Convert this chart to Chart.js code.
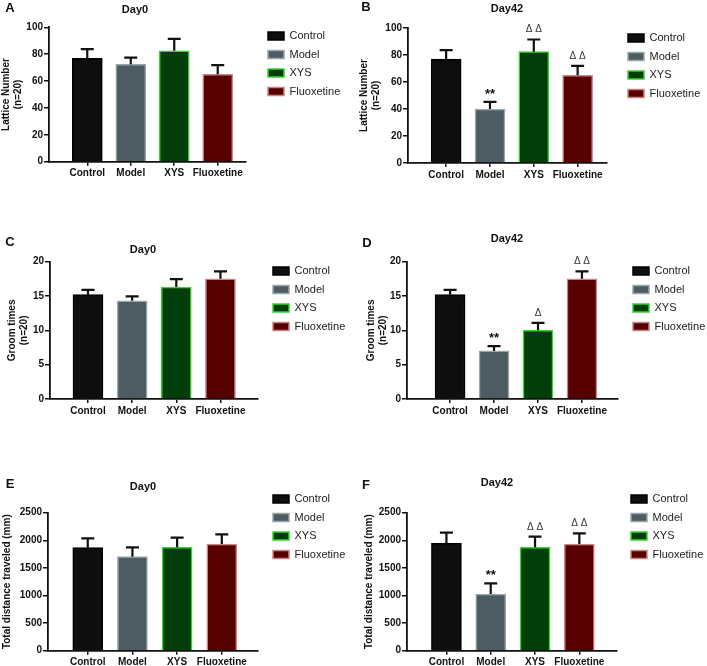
<!DOCTYPE html>
<html>
<head>
<meta charset="utf-8">
<script src="https://cdn.jsdelivr.net/npm/chart.js@4.4.0/dist/chart.umd.min.js"></script>
<style>
  html, body { margin: 0; padding: 0; background: #fff; }
  #wrap { position: relative; width: 707px; height: 666px; overflow: hidden; }
  #wrap canvas { position: absolute; }
</style>
</head>
<body>
<div id="wrap"></div>
<script>
// grupos y valores (media y error estandar)
const groups = ["Control", "Model", "XYS", "Fluoxetine"];

const latticeDay0 = [77, 72.5, 82.5, 65];
const latticeDay0Err = [6.7, 5.0, 8.9, 6.9];
const latticeDay42 = [77, 40, 82.5, 65];
const latticeDay42Err = [6.6, 5.3, 9.0, 6.9];

const groomDay0 = [15.2, 14.3, 16.3, 17.5];
const groomDay0Err = [0.7, 0.65, 1.15, 1.1];
const groomDay42 = [15.2, 7.0, 10.0, 17.5];
const groomDay42Err = [0.7, 0.7, 1.1, 1.1];

const distDay0 = [1866, 1703, 1873, 1933];
const distDay0Err = [170, 170, 175, 176];
const distDay42 = [1946, 1027, 1873, 1933];
const distDay42Err = [192, 194, 192, 194];

// marcas de significacion
const marksDay0 = ["", "", "", ""];
const marksLattice42 = ["", "**", "Δ Δ", "Δ Δ"];
const marksGroom42 = ["", "**", "Δ", "Δ Δ"];
const marksDist42 = ["", "**", "Δ Δ", "Δ Δ"];

// ticks del eje y
const latticeTicks = [0, 20, 40, 60, 80, 100];
const groomTicks = [0, 5, 10, 15, 20];
const distTicks = [0, 500, 1000, 1500, 2000, 2500];

const fills = ["#0e0e0e", "#4d5c63", "#023d0a", "#570000"];
const borders = ["#000000", "#9aa6aa", "#35d42e", "#c98585"];
const FONT = "'Liberation Sans', Arial, sans-serif";

// cada panel: posicion del canvas, area del grafico, textos
const panels = [
  { letter: "A", title: "Day0", means: latticeDay0, errs: latticeDay0Err, marks: marksDay0, ticks: latticeTicks,
    yTitle: ["Lattice Number", "(n=20)"], yPad: 0,
    box: [0, 0, 353, 220], area: [49, 27.3, 246, 161.7], xr: [-0.88, 3.65],
    titleXY: [135, 10], letterXY: [10, 8], legendXY: [268, 36] },
  { letter: "B", title: "Day42", means: latticeDay42, errs: latticeDay42Err, marks: marksLattice42, ticks: latticeTicks,
    yTitle: ["Lattice Number", "(n=20)"], yPad: 5,
    box: [353, 0, 354, 220], area: [55, 28, 254, 163], xr: [-0.87, 3.67],
    titleXY: [154, 9], letterXY: [13, 7], legendXY: [275, 38] },
  { letter: "C", title: "Day0", means: groomDay0, errs: groomDay0Err, marks: marksDay0, ticks: groomTicks,
    yTitle: ["Groom times", "(n=20)"], yPad: 6,
    box: [0, 220, 353, 220], area: [50, 41.7, 258, 179], xr: [-0.86, 3.85],
    titleXY: [143, 30], letterXY: [10, 22], legendXY: [273, 51] },
  { letter: "D", title: "Day42", means: groomDay42, errs: groomDay42Err, marks: marksGroom42, ticks: groomTicks,
    yTitle: ["Groom times", "(n=20)"], yPad: 12,
    box: [353, 220, 354, 220], area: [54, 41.7, 265, 179], xr: [-0.98, 3.82],
    titleXY: [154, 19], letterXY: [14, 23], legendXY: [280, 51] },
  { letter: "E", title: "Day0", means: distDay0, errs: distDay0Err, marks: marksDay0, ticks: distTicks,
    yTitle: "Total distance traveled (mm)", yPad: 1,
    box: [0, 440, 353, 226], area: [48, 72.7, 258, 210.7], xr: [-0.89, 3.81],
    titleXY: [143, 47], letterXY: [10, 44], legendXY: [273, 59] },
  { letter: "F", title: "Day42", means: distDay42, errs: distDay42Err, marks: marksDist42, ticks: distTicks,
    yTitle: "Total distance traveled (mm)", yPad: 10,
    box: [353, 440, 354, 226], area: [54, 72.7, 264, 210.7], xr: [-0.89, 3.85],
    titleXY: [144, 43], letterXY: [13, 45], legendXY: [278, 59] }
];

const LEG_FONT = 11;
const LEG_PAD = 7.5;

function makePanel(p) {
  const canvas = document.createElement("canvas");
  canvas.width = p.box[2];
  canvas.height = p.box[3];
  canvas.style.left = p.box[0] + "px";
  canvas.style.top = p.box[1] + "px";
  document.getElementById("wrap").appendChild(canvas);

  const [aL, aT, aR, aB] = p.area;
  const ticks = p.ticks;

  // dibuja barras de error, marcas, titulo y letra; coloca la leyenda
  const extras = {
    id: "extras" + p.letter,
    beforeLayout(chart) {
      const lg = chart.legend;
      if (lg && !lg._fixedFit) {
        const fit = lg.fit;
        lg.fit = function () { fit.call(this); this.width = chart.width - aR; };
        lg._fixedFit = true;
      }
    },
    afterLayout(chart) {
      const lg = chart.legend;
      lg.left = p.legendXY[0] - LEG_PAD;
      lg.top = p.legendXY[1] - LEG_PAD - LEG_FONT / 2;
      lg.right = lg.left + 120;
      lg.bottom = lg.top + 160;
    },
    afterDatasetsDraw(chart) {
      const ctx = chart.ctx;
      const y = chart.scales.y;
      ctx.save();
      chart.data.datasets.forEach((ds, i) => {
        const bar = chart.getDatasetMeta(i).data[0];
        const top = y.getPixelForValue(p.means[i] + p.errs[i]);
        ctx.strokeStyle = "#111";
        ctx.lineWidth = 2.2;
        ctx.beginPath();
        ctx.moveTo(bar.x, bar.y);
        ctx.lineTo(bar.x, top);
        ctx.moveTo(bar.x - 6.5, top);
        ctx.lineTo(bar.x + 6.5, top);
        ctx.stroke();
        const m = p.marks[i];
        if (m) {
          ctx.textAlign = "center";
          ctx.textBaseline = "alphabetic";
          if (m === "**") {
            ctx.font = "bold 13px " + FONT;
            ctx.fillStyle = "#111";
            ctx.fillText(m, bar.x, top - 4);
          } else {
            ctx.font = "10px " + FONT;
            ctx.fillStyle = "#333";
            ctx.fillText(m, bar.x, top - 7);
          }
        }
      });
      ctx.restore();
    },
    afterDraw(chart) {
      const ctx = chart.ctx;
      ctx.save();
      ctx.fillStyle = "#111";
      ctx.textAlign = "center";
      ctx.textBaseline = "middle";
      ctx.font = "bold 11px " + FONT;
      ctx.fillText(p.title, p.titleXY[0], p.titleXY[1]);
      ctx.font = "bold 13px " + FONT;
      ctx.fillText(p.letter, p.letterXY[0], p.letterXY[1]);
      ctx.restore();
    }
  };

  new Chart(canvas, {
    type: "bar",
    data: {
      datasets: groups.map((g, i) => ({
        label: g,
        data: [{ x: i, y: p.means[i] }],
        backgroundColor: fills[i],
        borderColor: borders[i],
        borderWidth: 1.5,
        barThickness: 30,
        grouped: false
      }))
    },
    options: {
      responsive: false,
      devicePixelRatio: 1,
      animation: false,
      layout: { padding: { left: 0, top: aT, right: 0, bottom: 0 } },
      plugins: {
        tooltip: { enabled: false },
        title: { display: false },
        legend: {
          position: "right",
          align: "start",
          labels: {
            boxWidth: 16,
            boxHeight: 8,
            padding: LEG_PAD,
            color: "#222",
            font: { family: FONT, size: LEG_FONT }
          }
        }
      },
      scales: {
        x: {
          type: "linear",
          min: p.xr[0],
          max: p.xr[1],
          offset: false,
          afterBuildTicks: s => { s.ticks = groups.map((g, i) => ({ value: i })); },
          afterFit: s => { s.height = p.box[3] - aB; },
          grid: { display: true, drawOnChartArea: false, offset: false, color: "#111", lineWidth: 1.5, tickLength: 4 },
          border: { display: true, color: "#111", width: 1.8 },
          ticks: {
            autoSkip: false,
            maxRotation: 0,
            padding: 2,
            color: "#111",
            font: { family: FONT, size: 10, weight: "bold" },
            callback: v => groups[v] || ""
          }
        },
        y: {
          min: ticks[0],
          max: ticks[ticks.length - 1],
          afterBuildTicks: s => { s.ticks = ticks.map(v => ({ value: v })); },
          afterFit: s => { s.width = aL; },
          grid: { display: true, drawOnChartArea: false, color: "#111", lineWidth: 1.5, tickLength: 5 },
          border: { display: true, color: "#111", width: 1.8 },
          ticks: {
            padding: 1,
            color: "#111",
            font: { family: FONT, size: 10, weight: "bold" },
            callback: v => String(v)
          },
          title: {
            display: true,
            text: p.yTitle,
            color: "#111",
            padding: { top: p.yPad, bottom: 0 },
            font: { family: FONT, size: 10, weight: "bold", lineHeight: 1.2 }
          }
        }
      }
    },
    plugins: [extras]
  });
}

panels.forEach(makePanel);
</script>
</body>
</html>
